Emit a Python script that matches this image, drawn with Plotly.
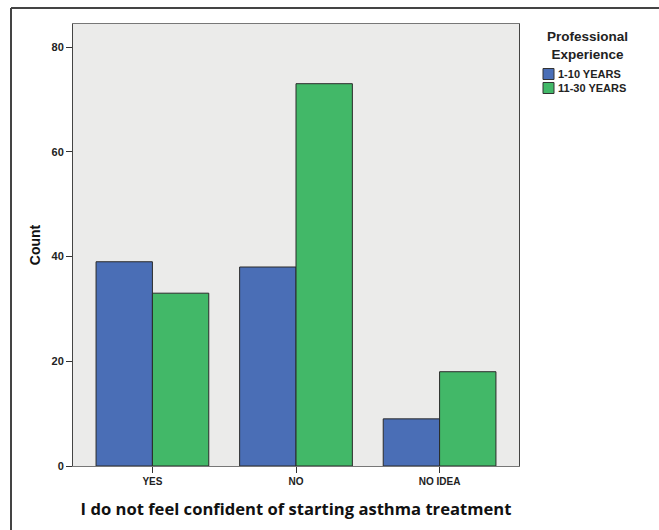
import plotly.graph_objects as go

categories = ["YES", "NO", "NO IDEA"]
series_names = ["1-10 YEARS", "11-30 YEARS"]
counts_1_10 = [39, 38, 9]
counts_11_30 = [33, 73, 18]
y_ticks = [0, 20, 40, 60, 80]
legend_title = "Professional<br>Experience"

colors = ["#4A6EB6", "#42B868"]

fig = go.Figure()
for name, vals, col in zip(series_names, [counts_1_10, counts_11_30], colors):
    fig.add_trace(go.Bar(
        x=categories, y=vals, name=name, showlegend=False,
        marker=dict(color=col, line=dict(color="#2a2a2a", width=1)),
    ))

W, H = 659, 530
L, R, T, B = 73, 140, 24, 64
pw, ph = W - L - R, H - T - B

def px_x(x):
    return (x - L) / pw

def px_y(y):
    return (H - B - y) / ph

shapes = [
    dict(type="line", xref="paper", yref="paper",
         x0=px_x(11), x1=px_x(11), y0=px_y(540), y1=px_y(8),
         line=dict(color="#444", width=2)),
    dict(type="line", xref="paper", yref="paper",
         x0=px_x(11), x1=px_x(670), y0=px_y(8), y1=px_y(8),
         line=dict(color="#444", width=2)),
]
annotations = [
    dict(text=f"<b>{legend_title}</b>", xref="paper", yref="paper",
         x=px_x(587), y=px_y(45), xanchor="center", yanchor="middle",
         showarrow=False, align="center",
         font=dict(family="Arial", size=13.5, color="#222")),
]
for i, (name, col) in enumerate(zip(series_names, colors)):
    yc = 74 + 14 * i
    shapes.append(dict(type="rect", xref="paper", yref="paper",
                       x0=px_x(543), x1=px_x(554), y0=px_y(yc + 5.5), y1=px_y(yc - 5.5),
                       fillcolor=col, line=dict(color="#333", width=1)))
    annotations.append(dict(text=f"<b>{name}</b>", xref="paper", yref="paper",
                            x=px_x(556), y=px_y(yc), xanchor="left", yanchor="middle",
                            showarrow=False,
                            font=dict(family="Arial", size=11, color="#222")))

fig.update_layout(
    width=W, height=H,
    margin=dict(l=L, r=R, t=T, b=B, pad=0, autoexpand=False),
    barmode="group", bargap=0.215, bargroupgap=0,
    plot_bgcolor="#EBEBEA", paper_bgcolor="white",
    font=dict(family="Arial", color="#222"),
    showlegend=False,
    xaxis=dict(
        range=[-0.553, 2.553],
        tickvals=categories, ticktext=[f"<b>{c}</b>" for c in categories],
        showline=True, linecolor="#777", linewidth=1, mirror=True,
        ticks="outside", ticklen=6, tickcolor="#333",
        tickfont=dict(family="Arial", size=10, color="#222"),
        title=dict(text="<b>I do not feel confident of starting asthma treatment</b>",
                   font=dict(family="Open Sans", size=16.6, color="#111"), standoff=17),
        showgrid=False,
    ),
    yaxis=dict(
        range=[0, 84.4],
        tickvals=y_ticks, ticktext=[f"<b>{v}</b>" for v in y_ticks],
        showline=True, linecolor="#444", linewidth=1, mirror=True,
        ticks="outside", ticklen=6, tickcolor="#333",
        tickfont=dict(family="Arial", size=11, color="#222"),
        title=dict(text="<b>Count</b>", font=dict(family="Arial", size=14, color="#111"), standoff=7),
        showgrid=False, zeroline=False,
    ),
    shapes=shapes,
    annotations=annotations,
)

fig.write_html("out.html", post_script="document.body.style.margin='0';",
               config={"displayModeBar": False})
